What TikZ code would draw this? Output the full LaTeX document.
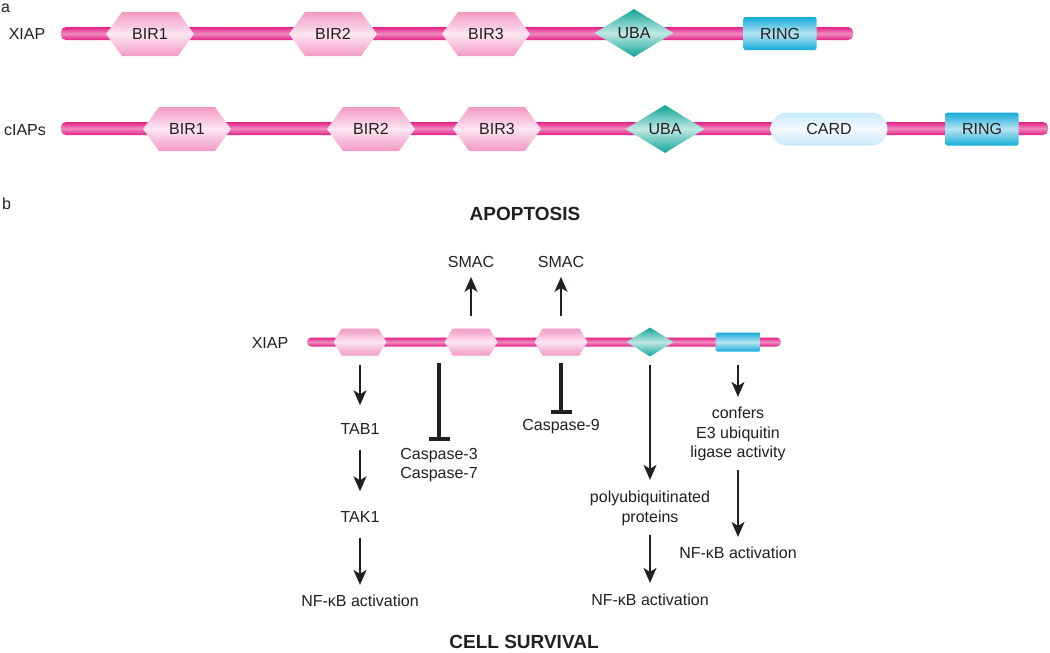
\documentclass[tikz,border=0pt]{standalone}
\usepackage{fontspec}
\setmainfont{Liberation Sans}
\usetikzlibrary{arrows.meta,shapes.geometric,shapes.symbols}

\definecolor{ink}{HTML}{231F20}
\definecolor{barEdge}{HTML}{E11F86}
\definecolor{barMid}{HTML}{F28BBF}
\definecolor{birEdge}{HTML}{F29AC3}
\definecolor{birMid}{HTML}{FCE6F0}
\definecolor{ubaEdge}{HTML}{0FA597}
\definecolor{ubaMid}{HTML}{C0E8E3}
\definecolor{ringEdge}{HTML}{14ACD8}
\definecolor{ringMid}{HTML}{B7E5F3}
\definecolor{cardEdge}{HTML}{C6E8FA}
\definecolor{cardMid}{HTML}{F4FAFE}

\tikzset{
  txt/.style={font=\fontsize{16}{19.5}\selectfont, text=ink, inner sep=0pt, align=center},
  head/.style={font=\bfseries\fontsize{19}{22}\selectfont, text=ink, inner sep=0pt},
  bir/.style={txt, signal, signal to=east and west, signal pointer angle=108,
    minimum width=88pt, minimum height=44pt,
    top color=birEdge, bottom color=birEdge, middle color=birMid},
  sbir/.style={bir, signal pointer angle=118, minimum width=53pt, minimum height=27pt},
  uba/.style={txt, diamond, aspect=1.65, minimum width=79pt, minimum height=48pt,
    top color=ubaEdge, bottom color=ubaEdge, middle color=ubaMid},
  suba/.style={uba, minimum width=47pt, minimum height=29pt},
  ring/.style={txt, rectangle, rounded corners=2pt, minimum width=73pt, minimum height=33pt,
    top color=ringEdge, bottom color=ringEdge, middle color=ringMid},
  sring/.style={ring, minimum width=45pt, minimum height=19pt},
  card/.style={txt, rectangle, rounded corners=16.5pt, minimum width=117pt, minimum height=33pt,
    top color=cardEdge, bottom color=cardEdge, middle color=cardMid},
  act/.style={draw=ink, line width=1.6pt, -{Stealth[length=15pt,width=13pt,inset=4pt]}},
  inh/.style={draw=ink, line width=4pt, -{Bar[width=21pt]}}
}

\begin{document}
\begin{tikzpicture}[x=1pt, y=-1pt]
  \useasboundingbox (0,0) rectangle (1050,653);

  % panel a
  \node[txt] at (5.5,8) {a};
  \node[txt] (xlab) at (27,33.5) {XIAP};
  \node[txt] (clab) at (25,129.7) {cIAPs};
  \shade[top color=barEdge, bottom color=barEdge, middle color=barMid, rounded corners=5pt]
    (61,27) rectangle (853,40);
  \shade[top color=barEdge, bottom color=barEdge, middle color=barMid, rounded corners=5pt]
    (61,122) rectangle (1048,135);
  \foreach \n/\x in {1/150,2/333,3/486}
    \node[bir] (xbir\n) at (\x,34) {BIR\n};
  \node[uba] (xuba) at (634,33) {UBA};
  \node[ring] (xring) at (780,33.5) {RING};
  \foreach \n/\x in {1/187,2/371,3/497}
    \node[bir] (cbir\n) at (\x,129) {BIR\n};
  \node[uba] (cuba) at (665,129) {UBA};
  \node[card] (ccard) at (829,129) {CARD};
  \node[ring] (cring) at (982,129) {RING};

  % panel b
  \node[txt] at (6.5,203.5) {b};
  \node[head] (apop) at (525,214) {APOPTOSIS};
  \node[head] (surv) at (524,642) {CELL SURVIVAL};
  \node[txt] (blab) at (270,343) {XIAP};
  \shade[top color=barEdge, bottom color=barEdge, middle color=barMid, rounded corners=4.5pt]
    (307,337.5) rectangle (781,346.5);
  \foreach \n/\x in {1/360,2/471,3/561}
    \node[sbir] (sb\n) at (\x,342) {};
  \node[suba] (suba) at (650,342) {};
  \node[sring] (sring) at (738,342) {};

  \node[txt] (smac1) at (471,262) {SMAC};
  \node[txt] (smac2) at (561,262) {SMAC};
  \node[txt] (tab1) at (360,429) {TAB1};
  \node[txt] (tak1) at (360,517) {TAK1};
  \node[txt] (nf1) at (360,601) {NF-κB activation};
  \node[txt] (casp37) at (439,465.3) {Caspase-3\\Caspase-7};
  \node[txt] (casp9) at (561,426.6) {Caspase-9};
  \node[txt] (poly) at (650,508.3) {polyubiquitinated\\proteins};
  \node[txt] (nf2) at (650,600) {NF-κB activation};
  \node[txt] (conf) at (738,434.1) {confers\\E3 ubiquitin\\ligase activity};
  \node[txt] (nf3) at (738,553) {NF-κB activation};
  \coordinate (c37) at (439,363);
  \coordinate (c9) at (561,363);

  \draw[act, shorten <=12.5pt, shorten >=9pt] (sb2) -- (smac1);
  \draw[act, shorten <=12.5pt, shorten >=9pt] (sb3) -- (smac2);
  \draw[act, shorten <=9.5pt, shorten >=18pt] (sb1) -- (tab1);
  \draw[act, shorten <=15pt, shorten >=20pt] (tab1) -- (tak1);
  \draw[act, shorten <=15pt, shorten >=10pt] (tak1) -- (nf1);
  \draw[inh, shorten >=7pt] (c37) -- (casp37);
  \draw[inh, shorten >=5pt] (c9) -- (casp9);
  \draw[act, shorten <=8.5pt, shorten >=11pt] (suba) -- (poly);
  \draw[act, shorten <=9pt, shorten >=11pt] (poly) -- (nf2);
  \draw[act, shorten <=13.5pt, shorten >=10pt] (sring) -- (conf);
  \draw[act, shorten <=9pt, shorten >=10pt] (conf) -- (nf3);
\end{tikzpicture}
\end{document}
